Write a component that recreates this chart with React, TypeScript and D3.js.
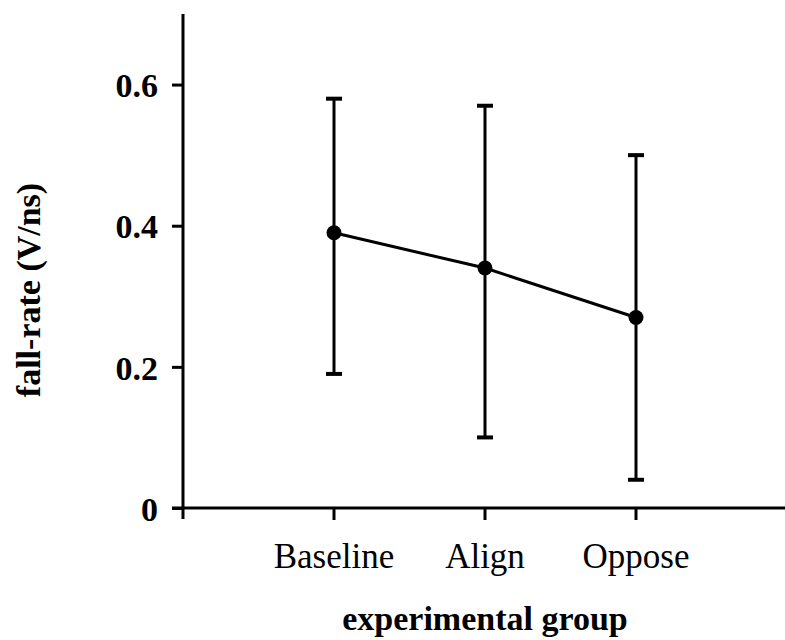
import { useEffect, useRef } from "react";
import * as d3 from "d3";

const CATEGORIES = ["Baseline", "Align", "Oppose"];
const MEANS = [0.39, 0.34, 0.27];
const UPPER = [0.58, 0.57, 0.5];
const LOWER = [0.19, 0.1, 0.04];
const Y_TICKS = [0, 0.2, 0.4, 0.6];

const FONT = "'Liberation Serif', 'Times New Roman', serif";

export default function App() {
  const svgRef = useRef<SVGSVGElement>(null);

  useEffect(() => {
    if (!svgRef.current) return;
    const svg = d3.select(svgRef.current);
    svg.selectAll("*").remove();

    const x = d3.scaleLinear().domain([0, 4]).range([183, 787]);
    const y = d3.scaleLinear().domain([0, 0.7]).range([508, 14]);

    const g = svg.append("g");

    // axes lines
    g.append("line")
      .attr("x1", x(0)).attr("x2", x(0))
      .attr("y1", y(0.7)).attr("y2", y(0) + 11)
      .attr("stroke", "#000").attr("stroke-width", 3);
    g.append("line")
      .attr("x1", x(0) - 11).attr("x2", 785)
      .attr("y1", y(0)).attr("y2", y(0))
      .attr("stroke", "#000").attr("stroke-width", 3);

    // y ticks
    const yAxis = g.append("g")
      .attr("transform", `translate(${x(0)},0)`)
      .call(
        d3.axisLeft(y)
          .tickValues(Y_TICKS)
          .tickSize(11)
          .tickPadding(14)
          .tickFormat((d) => (+d === 0 ? "0" : (+d).toFixed(1)))
      );
    yAxis.select(".domain").remove();
    yAxis.selectAll(".tick line").attr("stroke", "#000").attr("stroke-width", 3);
    yAxis.selectAll(".tick text")
      .attr("fill", "#000")
      .attr("font-family", FONT)
      .attr("font-weight", "bold")
      .attr("font-size", 34)
      .attr("dy", "0.36em");

    // x ticks
    CATEGORIES.forEach((c, i) => {
      const cx = x(i + 1);
      g.append("line")
        .attr("x1", cx).attr("x2", cx)
        .attr("y1", y(0)).attr("y2", y(0) + 12)
        .attr("stroke", "#000").attr("stroke-width", 3);
      g.append("text")
        .attr("x", cx)
        .attr("y", 568)
        .attr("text-anchor", "middle")
        .attr("font-family", FONT)
        .attr("font-size", 35)
        .text(c);
    });

    // error bars
    CATEGORIES.forEach((_, i) => {
      const cx = x(i + 1);
      g.append("line")
        .attr("x1", cx).attr("x2", cx)
        .attr("y1", y(UPPER[i])).attr("y2", y(LOWER[i]))
        .attr("stroke", "#000").attr("stroke-width", 3);
      [UPPER[i], LOWER[i]].forEach((v) => {
        g.append("line")
          .attr("x1", cx - 8).attr("x2", cx + 8)
          .attr("y1", y(v)).attr("y2", y(v))
          .attr("stroke", "#000").attr("stroke-width", 4);
      });
    });

    // mean line
    const line = d3.line<number>()
      .x((_, i) => x(i + 1))
      .y((d) => y(d));
    g.append("path")
      .attr("d", line(MEANS) || "")
      .attr("fill", "none")
      .attr("stroke", "#000")
      .attr("stroke-width", 3);

    g.selectAll("circle.pt")
      .data(MEANS)
      .enter()
      .append("circle")
      .attr("class", "pt")
      .attr("cx", (_, i) => x(i + 1))
      .attr("cy", (d) => y(d))
      .attr("r", 7.5)
      .attr("fill", "#000");

    // axis titles
    g.append("text")
      .attr("transform", `translate(40,290) rotate(-90)`)
      .attr("text-anchor", "middle")
      .attr("font-family", FONT)
      .attr("font-weight", "bold")
      .attr("font-size", 34)
      .text("fall-rate (V/ns)");

    g.append("text")
      .attr("x", x(2))
      .attr("y", 630)
      .attr("text-anchor", "middle")
      .attr("font-family", FONT)
      .attr("font-weight", "bold")
      .attr("font-size", 34)
      .text("experimental group");
  }, []);

  return (
    <svg
      ref={svgRef}
      width={785}
      height={640}
      style={{ position: "absolute", left: 0, top: 0, background: "#fff" }}
    />
  );
}
